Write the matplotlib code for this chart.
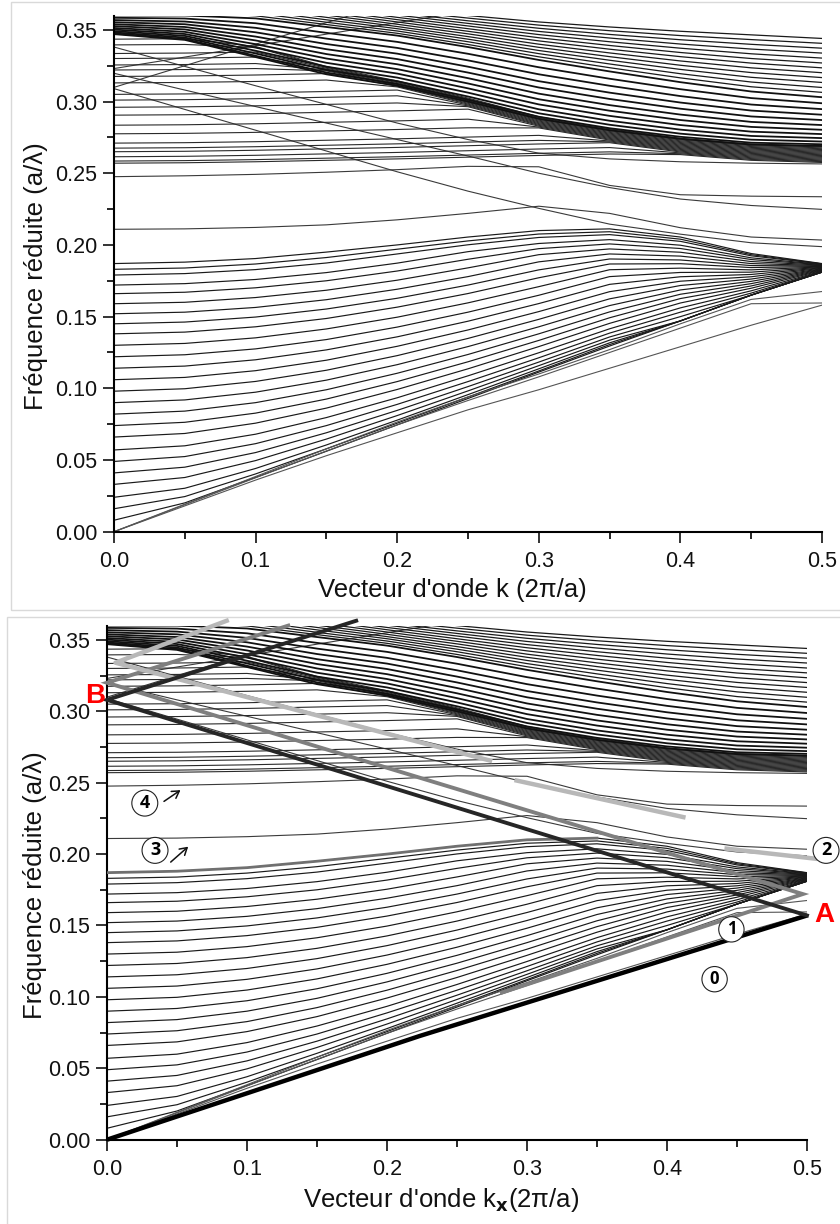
import matplotlib
matplotlib.use("Agg")
import matplotlib.pyplot as plt
from matplotlib.ticker import MultipleLocator, FormatStrFormatter
from matplotlib.patches import Rectangle

plt.rcParams['font.family'] = ['Liberation Sans', 'DejaVu Sans']

# ---------------- data ----------------
K = [0.0, 0.05, 0.10, 0.15, 0.20, 0.25, 0.30, 0.35, 0.40, 0.45, 0.50]

lower_bands = [
    [0.187, 0.188, 0.1905, 0.195, 0.200, 0.2055, 0.210, 0.2112, 0.2055, 0.194, 0.187],
    [0.183, 0.1839, 0.1867, 0.1912, 0.197, 0.2028, 0.2076, 0.2092, 0.204, 0.1932, 0.1868],
    [0.179, 0.180, 0.1828, 0.1874, 0.1937, 0.2001, 0.2052, 0.2072, 0.2025, 0.1924, 0.1867],
    [0.172, 0.173, 0.1759, 0.1807, 0.1873, 0.1953, 0.201, 0.2037, 0.1998, 0.191, 0.1864],
    [0.166, 0.167, 0.1701, 0.175, 0.1818, 0.190, 0.1974, 0.2007, 0.1975, 0.1898, 0.1862],
    [0.159, 0.160, 0.1633, 0.1684, 0.1754, 0.184, 0.1932, 0.1972, 0.1949, 0.1884, 0.1859],
    [0.152, 0.1531, 0.1564, 0.1618, 0.1691, 0.1779, 0.1882, 0.1937, 0.1922, 0.187, 0.1856],
    [0.145, 0.1462, 0.1497, 0.1553, 0.1628, 0.172, 0.1826, 0.1902, 0.1895, 0.1856, 0.1853],
    [0.138, 0.1392, 0.1429, 0.1487, 0.1566, 0.1661, 0.1771, 0.1867, 0.1869, 0.1842, 0.185],
    [0.130, 0.1313, 0.1352, 0.1414, 0.1496, 0.1596, 0.1709, 0.1827, 0.1838, 0.1826, 0.1847],
    [0.122, 0.1234, 0.1275, 0.134, 0.1427, 0.1531, 0.1649, 0.1779, 0.1808, 0.181, 0.1844],
    [0.114, 0.1155, 0.1199, 0.1268, 0.1359, 0.1468, 0.1591, 0.1725, 0.1778, 0.1794, 0.1841],
    [0.106, 0.1076, 0.1123, 0.1196, 0.1293, 0.1407, 0.1535, 0.1674, 0.1747, 0.1778, 0.1838],
    [0.098, 0.0997, 0.1048, 0.1126, 0.1228, 0.1348, 0.1481, 0.1624, 0.1717, 0.1762, 0.1834],
    [0.090, 0.0919, 0.0973, 0.1057, 0.1165, 0.1291, 0.1429, 0.1577, 0.1686, 0.1746, 0.1831],
    [0.082, 0.0841, 0.090, 0.099, 0.1105, 0.1236, 0.138, 0.1533, 0.1656, 0.173, 0.1828],
    [0.074, 0.0763, 0.0827, 0.0925, 0.1047, 0.1185, 0.1334, 0.1492, 0.1626, 0.1714, 0.1825],
    [0.066, 0.0685, 0.0757, 0.0862, 0.0992, 0.1136, 0.1291, 0.1453, 0.1595, 0.1698, 0.1822],
    [0.057, 0.0599, 0.068, 0.0796, 0.0934, 0.1087, 0.1248, 0.1415, 0.1561, 0.168, 0.1818],
    [0.049, 0.0524, 0.0614, 0.074, 0.0888, 0.1047, 0.1213, 0.1385, 0.1531, 0.1664, 0.1815],
    [0.041, 0.045, 0.0552, 0.069, 0.0846, 0.1012, 0.1183, 0.1358, 0.150, 0.165, 0.1812],
    [0.033, 0.0378, 0.0496, 0.0646, 0.081, 0.0982, 0.1158, 0.1336, 0.147, 0.165, 0.181],
    [0.024, 0.0303, 0.0441, 0.0605, 0.0778, 0.0956, 0.1136, 0.1317, 0.147, 0.165, 0.181],
    [0.016, 0.0245, 0.0403, 0.0578, 0.0757, 0.0939, 0.1121, 0.1305, 0.147, 0.165, 0.181],
    [0.008, 0.0201, 0.0379, 0.0561, 0.0745, 0.0929, 0.1113, 0.1295, 0.147, 0.165, 0.181],
]

light_low = [
    [0.0, 0.018, 0.036, 0.053, 0.069, 0.085, 0.099, 0.114, 0.129, 0.144, 0.158],
    [0.0, 0.0188, 0.0376, 0.0563, 0.0745, 0.0915, 0.108, 0.125, 0.142, 0.159, 0.1595],
    [0.0, 0.0192, 0.0385, 0.0578, 0.0765, 0.094, 0.110, 0.127, 0.145, 0.162, 0.1675],
]

mid_bands = [
    [0.2476, 0.2482, 0.2492, 0.2507, 0.2525, 0.2548, 0.2545, 0.2415, 0.2350, 0.2340, 0.2336],
    [0.2109, 0.2112, 0.2122, 0.214, 0.2175, 0.222, 0.227, 0.222, 0.212, 0.2055, 0.2034],
    [0.309, 0.2945, 0.280, 0.2655, 0.251, 0.2375, 0.2255, 0.2145, 0.2075, 0.2015, 0.1988],
    [0.3197, 0.308, 0.2965, 0.285, 0.2735, 0.262, 0.250, 0.240, 0.232, 0.2275, 0.2248],
    [0.338, 0.3245, 0.311, 0.298, 0.285, 0.2735, 0.264, 0.260, 0.258, 0.257, 0.2565],
    [0.3099, 0.325, 0.340, 0.355, 0.370],
    [0.323, 0.331, 0.339, 0.347, 0.355, 0.363],
]

flat_bands = [
    [0.257, 0.2573, 0.258, 0.259, 0.26, 0.2612, 0.2624, 0.2634, 0.263, 0.259, 0.2575],
    [0.2585, 0.2588, 0.2595, 0.2605, 0.2615, 0.2627, 0.2639, 0.2649, 0.2636, 0.2596, 0.2581],
    [0.2615, 0.2618, 0.2625, 0.2635, 0.2645, 0.2657, 0.2669, 0.2679, 0.2642, 0.2602, 0.2587],
    [0.265, 0.2653, 0.266, 0.267, 0.268, 0.2692, 0.2704, 0.2713, 0.2648, 0.2608, 0.2593],
    [0.2675, 0.2678, 0.2685, 0.2695, 0.2705, 0.2717, 0.2729, 0.2719, 0.2654, 0.2614, 0.2599],
    [0.271, 0.2713, 0.272, 0.273, 0.274, 0.2752, 0.2764, 0.2725, 0.266, 0.262, 0.2605],
    [0.2775, 0.2778, 0.2785, 0.2795, 0.2805, 0.2817, 0.2816, 0.2731, 0.2666, 0.2626, 0.2611],
    [0.2835, 0.2838, 0.2845, 0.2855, 0.2865, 0.2877, 0.2822, 0.2737, 0.2672, 0.2632, 0.2617],
    [0.2905, 0.2908, 0.2915, 0.2925, 0.2935, 0.2947, 0.2828, 0.2743, 0.2678, 0.2638, 0.2623],
    [0.296, 0.2963, 0.297, 0.298, 0.299, 0.2964, 0.2834, 0.2749, 0.2684, 0.2644, 0.2629],
    [0.301, 0.3013, 0.302, 0.303, 0.304, 0.297, 0.284, 0.2755, 0.269, 0.265, 0.2635],
    [0.305, 0.3053, 0.306, 0.307, 0.308, 0.2976, 0.2846, 0.2761, 0.2696, 0.2656, 0.2641],
    [0.313, 0.3133, 0.314, 0.315, 0.3102, 0.2982, 0.2852, 0.2767, 0.2702, 0.2662, 0.2647],
    [0.3175, 0.3178, 0.3185, 0.3195, 0.3108, 0.2988, 0.2858, 0.2773, 0.2708, 0.2668, 0.2653],
    [0.322, 0.3223, 0.323, 0.3214, 0.3114, 0.2994, 0.2864, 0.2779, 0.2714, 0.2674, 0.2659],
    [0.3255, 0.3258, 0.3265, 0.322, 0.312, 0.300, 0.287, 0.2785, 0.272, 0.268, 0.2665],
    [0.330, 0.3303, 0.331, 0.3226, 0.3126, 0.3006, 0.2876, 0.2791, 0.2726, 0.2686, 0.2671],
    [0.3335, 0.3338, 0.3345, 0.3232, 0.3132, 0.3012, 0.2882, 0.2797, 0.2732, 0.2692, 0.2677],
    [0.3395, 0.3398, 0.3378, 0.3238, 0.3138, 0.3018, 0.2888, 0.2803, 0.2738, 0.2698, 0.2683],
    [0.3435, 0.3438, 0.3384, 0.3244, 0.3144, 0.3024, 0.2894, 0.2809, 0.2744, 0.2704, 0.2689],
]

desc_bands = [
    [0.347, 0.343, 0.331, 0.319, 0.311, 0.300, 0.288, 0.280, 0.274, 0.270, 0.269],
    [0.3475, 0.3436, 0.3319, 0.3202, 0.3122, 0.3013, 0.2894, 0.2814, 0.2754, 0.2713, 0.2702],
    [0.3482, 0.3446, 0.3335, 0.322, 0.3142, 0.3035, 0.2918, 0.2838, 0.2776, 0.2734, 0.2721],
    [0.3491, 0.3458, 0.3354, 0.3243, 0.3167, 0.3062, 0.2946, 0.2866, 0.2804, 0.276, 0.2745],
    [0.3502, 0.3471, 0.3376, 0.327, 0.3195, 0.3092, 0.298, 0.290, 0.2836, 0.279, 0.2773],
    [0.3513, 0.3486, 0.340, 0.330, 0.3226, 0.3126, 0.3016, 0.2936, 0.2871, 0.2823, 0.2803],
    [0.3526, 0.3503, 0.3426, 0.3331, 0.326, 0.3163, 0.3055, 0.2975, 0.2909, 0.2858, 0.2836],
    [0.3539, 0.352, 0.3453, 0.3365, 0.3296, 0.3202, 0.3098, 0.3018, 0.295, 0.2896, 0.2871],
    [0.3553, 0.3539, 0.3483, 0.3401, 0.3334, 0.3243, 0.3142, 0.3062, 0.2993, 0.2937, 0.2908],
    [0.3568, 0.3558, 0.3514, 0.3439, 0.3374, 0.3287, 0.319, 0.311, 0.3038, 0.2979, 0.2947],
    [0.3584, 0.3579, 0.3546, 0.3479, 0.3416, 0.3333, 0.3239, 0.3159, 0.3086, 0.3024, 0.2988],
    [0.360, 0.360, 0.358, 0.352, 0.346, 0.338, 0.329, 0.321, 0.3135, 0.307, 0.303],
]

top_bands = [
    [0.3633, 0.3625, 0.3598, 0.3537, 0.3476, 0.3398, 0.3312, 0.3236, 0.3165, 0.3103, 0.3064],
    [0.3667, 0.365, 0.3617, 0.3553, 0.3492, 0.3417, 0.3334, 0.3262, 0.3194, 0.3136, 0.3098],
    [0.37, 0.3675, 0.3635, 0.357, 0.3508, 0.3435, 0.3356, 0.3288, 0.3224, 0.3169, 0.3133],
    [0.3733, 0.37, 0.3653, 0.3587, 0.3523, 0.3453, 0.3378, 0.3313, 0.3253, 0.3202, 0.3167],
    [0.3767, 0.3725, 0.3672, 0.3603, 0.3539, 0.3472, 0.34, 0.3339, 0.3283, 0.3235, 0.3201],
    [0.38, 0.375, 0.369, 0.362, 0.3555, 0.349, 0.3423, 0.3365, 0.3313, 0.3268, 0.3235],
    [0.3833, 0.3775, 0.3708, 0.3637, 0.3571, 0.3508, 0.3445, 0.3391, 0.3342, 0.33, 0.3269],
    [0.3867, 0.38, 0.3727, 0.3653, 0.3587, 0.3527, 0.3467, 0.3417, 0.3372, 0.3333, 0.3303],
    [0.39, 0.3825, 0.3745, 0.367, 0.3603, 0.3545, 0.3489, 0.3443, 0.3401, 0.3366, 0.3338],
    [0.3933, 0.385, 0.3763, 0.3687, 0.3618, 0.3563, 0.3511, 0.3468, 0.3431, 0.3399, 0.3372],
    [0.3967, 0.3875, 0.3782, 0.3703, 0.3634, 0.3582, 0.3533, 0.3494, 0.346, 0.3432, 0.3406],
    [0.40, 0.39, 0.38, 0.372, 0.365, 0.360, 0.3555, 0.352, 0.349, 0.3465, 0.344],
]

# overlay paths of the lower panel (k, f)
path0_k = [0.0, 0.2236, 0.5]
path0_f = [0.0, 0.0727, 0.157]
pathAB_k = [0.5, 0.0, 0.178]
pathAB_f = [0.157, 0.308, 0.3634]
pathMG_k = [0.1295, 0.0, 0.497, 0.282]
pathMG_f = [0.360, 0.320, 0.172, 0.103]
pathLG1_k = [0.0855, 0.006, 0.2736]
pathLG1_f = [0.3634, 0.334, 0.2655]
pathLG2_k = [0.2926, 0.4117]
pathLG2_f = [0.2515, 0.2259]
pathLG3_k = [0.4426, 0.5057]
pathLG3_f = [0.2038, 0.1968]

circle_labels = ['0', '1', '2', '3', '4']
circle_k = [0.434, 0.446, 0.5136, 0.0343, 0.027]
circle_f = [0.1124, 0.1473, 0.2026, 0.2026, 0.2357]
circle_size = [12, 12, 13, 13, 13]
arrow_from = [(0.0455, 0.1944), (0.0407, 0.2369)]
arrow_to = [(0.058, 0.2052), (0.0525, 0.2448)]

W, H = 840, 1224
fig = plt.figure(figsize=(W / 100, H / 100), dpi=100)

# panel frames
fig.add_artist(Rectangle((10.5 / W, 1 - 610 / H), 1.0, (610 - 2) / H,
                         transform=fig.transFigure, fill=False, ec='#d9d9d9', lw=1.0))
fig.add_artist(Rectangle((6.5 / W, -0.05), 1.0, 1 - 617 / H + 0.05,
                         transform=fig.transFigure, fill=False, ec='#d9d9d9', lw=1.0))


def style_axes(ax):
    ax.set_xlim(0, 0.5)
    ax.set_ylim(0, 0.36)
    for s in ['top', 'right']:
        ax.spines[s].set_visible(False)
    for s in ['left', 'bottom']:
        ax.spines[s].set_linewidth(1.5)
    ax.xaxis.set_major_locator(MultipleLocator(0.1))
    ax.xaxis.set_minor_locator(MultipleLocator(0.05))
    ax.yaxis.set_major_locator(MultipleLocator(0.05))
    ax.yaxis.set_minor_locator(MultipleLocator(0.025))
    ax.xaxis.set_major_formatter(FormatStrFormatter('%.1f'))
    ax.yaxis.set_major_formatter(FormatStrFormatter('%.2f'))
    ax.tick_params(which='major', direction='out', length=8, width=1.2,
                   labelsize=15.5, pad=4, colors='#111')
    ax.tick_params(which='minor', direction='out', length=5, width=1.2)
    ax.tick_params(axis='x', which='major', pad=6)


def draw_bands(ax):
    for f in lower_bands:
        ax.plot(K[:len(f)], f, color='#1a1a1a', lw=0.85, zorder=2)
    for f in light_low:
        ax.plot(K[:len(f)], f, color='#555555', lw=0.8, zorder=2)
    for f in mid_bands:
        ax.plot(K[:len(f)], f, color='#3a3a3a', lw=0.8, zorder=2)
    for f in flat_bands:
        ax.plot(K[:len(f)], f, color='#2a2a2a', lw=0.8, zorder=2)
    for f in desc_bands:
        ax.plot(K[:len(f)], f, color='#111111', lw=1.3, zorder=2)
    for f in top_bands:
        ax.plot(K[:len(f)], f, color='#1a1a1a', lw=0.9, zorder=2)


# ---------- top panel ----------
ax1 = fig.add_axes([114 / W, 1 - 531.7 / H, 708 / W, 516.2 / H])
style_axes(ax1)
draw_bands(ax1)
fig.text(36 / W, 1 - 276 / H, "Fréquence réduite (a/λ)", rotation=90,
         ha='center', va='center', fontsize=18.5, color='#111')
fig.text(452 / W, 1 - 590 / H, "Vecteur d'onde k (2π/a)",
         ha='center', va='center', fontsize=18.5, color='#111')

# ---------- bottom panel ----------
ax2 = fig.add_axes([107 / W, 1 - 1139.7 / H, 700 / W, 514.1 / H])
style_axes(ax2)
draw_bands(ax2)
ax2.plot(K[:8], lower_bands[0][:8], color='#707070', lw=2.0, zorder=3)

ax2.plot(path0_k, path0_f, color='#000000', lw=3.2, zorder=5,
         solid_capstyle='butt', clip_on=False)
ax2.plot(pathAB_k, pathAB_f, color='#262626', lw=2.8, zorder=5,
         solid_joinstyle='miter', clip_on=False)
ax2.plot(pathMG_k, pathMG_f, color='#7f7f7f', lw=2.8, zorder=4,
         solid_joinstyle='miter', clip_on=False)
ax2.plot(pathLG1_k, pathLG1_f, color='#b8b8b8', lw=3.2, zorder=4, clip_on=False)
ax2.plot(pathLG2_k, pathLG2_f, color='#b8b8b8', lw=3.2, zorder=4, clip_on=False)
ax2.plot(pathLG3_k, pathLG3_f, color='#b8b8b8', lw=3.2, zorder=4, clip_on=False)

for lab, kx, fy, sz in zip(circle_labels, circle_k, circle_f, circle_size):
    ax2.text(kx, fy, lab, ha='center', va='center', fontsize=sz, fontweight='bold',
             family=['Open Sans', 'DejaVu Sans'], zorder=7, clip_on=False,
             bbox=dict(boxstyle='circle,pad=0.22', fc='white', ec='#222', lw=0.8))
for (x0, y0), (x1, y1) in zip(arrow_from, arrow_to):
    ax2.annotate('', xy=(x1, y1), xytext=(x0, y0),
                 arrowprops=dict(arrowstyle='->,head_length=0.5,head_width=0.3',
                                 lw=1.1, color='#111', shrinkA=0, shrinkB=0),
                 zorder=7)

ax2.text(0.5055, 0.157, 'A', color='#ff0000', fontsize=20, fontweight='bold',
         ha='left', va='center', clip_on=False, zorder=8)
ax2.text(-0.0015, 0.3105, 'B', color='#ff0000', fontsize=20, fontweight='bold',
         ha='right', va='center', clip_on=False, zorder=8)

fig.text(35 / W, 1 - 885 / H, "Fréquence réduite (a/λ)", rotation=90,
         ha='center', va='center', fontsize=18.5, color='#111')
fig.text(441 / W, 1 - 1200 / H, r"Vecteur d'onde k$_{\mathbf{x}}$(2π/a)",
         ha='center', va='center', fontsize=18.5, color='#111')

fig.savefig('out.png', dpi=100)
